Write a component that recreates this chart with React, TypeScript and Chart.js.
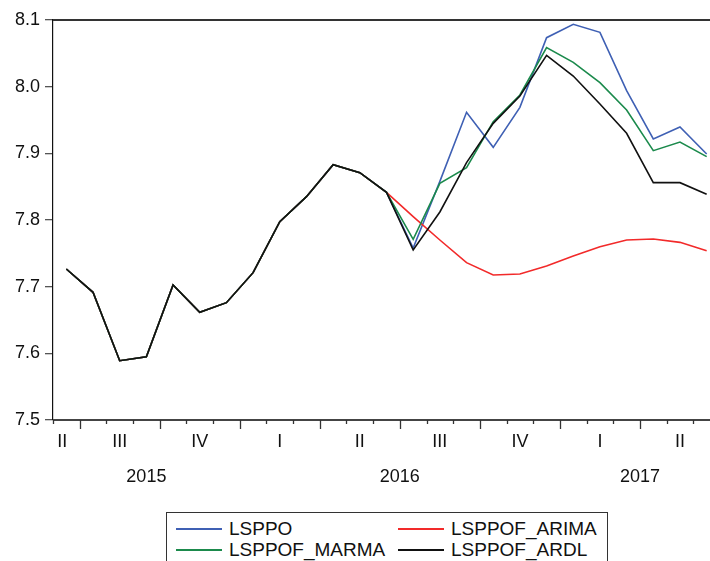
import React, { useEffect, useRef } from "react";
import { Chart, registerables } from "chart.js";

Chart.register(...registerables);

// Months shown on the x axis (2015M06 .. 2017M06)
const months: string[] = [
  "2015-06", "2015-07", "2015-08", "2015-09", "2015-10", "2015-11", "2015-12",
  "2016-01", "2016-02", "2016-03", "2016-04", "2016-05", "2016-06", "2016-07",
  "2016-08", "2016-09", "2016-10", "2016-11", "2016-12",
  "2017-01", "2017-02", "2017-03", "2017-04", "2017-05", "2017-06",
];

// Actual values up to the forecast start (2015M06 .. 2016M06)
const history: number[] = [
  7.7265, 7.6915, 7.589, 7.595, 7.7025, 7.6615, 7.676, 7.721, 7.7975, 7.835,
  7.883, 7.871, 7.8415,
];

// Values after the forecast start (2016M07 .. 2017M06)
const lsppoAfter: number[] = [
  7.758, 7.858, 7.9615, 7.909, 7.969, 8.0735, 8.0935, 8.0815, 7.994, 7.9215, 7.9395, 7.899,
];
const arimaAfter: number[] = [
  7.805, 7.77, 7.736, 7.7175, 7.719, 7.731, 7.746, 7.76, 7.77, 7.7715, 7.7665, 7.754,
];
const marmaAfter: number[] = [
  7.771, 7.855, 7.8785, 7.9475, 7.9875, 8.0585, 8.0365, 8.006, 7.965, 7.904, 7.917, 7.895,
];
const ardlAfter: number[] = [
  7.755, 7.812, 7.886, 7.945, 7.986, 8.047, 8.016, 7.974, 7.93, 7.856, 7.856, 7.8385,
];

const yTicks: number[] = [7.5, 7.6, 7.7, 7.8, 7.9, 8.0, 8.1];
const quarterNames: string[] = ["I", "II", "III", "IV"];

const seriesNames = ["LSPPO", "LSPPOF_ARIMA", "LSPPOF_MARMA", "LSPPOF_ARDL"];
const seriesColors = ["#3f60b4", "#f22a2a", "#1b8a4c", "#111111"];

const FONT = '"Liberation Sans", Arial, sans-serif';

const xAxisPlugin = {
  id: "eviewsAxis",
  afterDraw(chart: any) {
    const { ctx, chartArea, scales } = chart;
    const xs = scales.x;
    const left = chartArea.left;
    const right = chartArea.right;
    const bottom = chartArea.bottom;
    const n = months.length;
    const step = (right - left) / n;
    ctx.save();
    // top frame line
    ctx.strokeStyle = "#333333";
    ctx.lineWidth = 2;
    ctx.beginPath();
    ctx.moveTo(left, chartArea.top);
    ctx.lineTo(right, chartArea.top);
    ctx.stroke();
    // bottom axis line
    ctx.strokeStyle = "#444444";
    ctx.beginPath();
    ctx.moveTo(left, bottom);
    ctx.lineTo(right, bottom);
    ctx.stroke();
    // month ticks
    ctx.lineWidth = 1.3;
    ctx.strokeStyle = "#333333";
    for (let i = 0; i < n; i++) {
      const m = parseInt(months[i].slice(5), 10);
      const isQuarterStart = (m - 1) % 3 === 0;
      const x = Math.round(xs.getPixelForValue(i) - step / 2) + 0.5;
      ctx.beginPath();
      ctx.moveTo(x, bottom);
      ctx.lineTo(x, bottom + (isQuarterStart ? 9 : 4));
      ctx.stroke();
    }
    // quarter labels
    ctx.fillStyle = "#111111";
    ctx.font = `18px ${FONT}`;
    ctx.textAlign = "center";
    ctx.textBaseline = "middle";
    const qGroups: { key: string; q: number; idx: number[] }[] = [];
    const yGroups: { y: string; idx: number[] }[] = [];
    months.forEach((mm, i) => {
      const y = mm.slice(0, 4);
      const q = Math.floor((parseInt(mm.slice(5), 10) - 1) / 3);
      const key = y + "-" + q;
      const lastQ = qGroups[qGroups.length - 1];
      if (lastQ && lastQ.key === key) lastQ.idx.push(i);
      else qGroups.push({ key, q, idx: [i] });
      const lastY = yGroups[yGroups.length - 1];
      if (lastY && lastY.y === y) lastY.idx.push(i);
      else yGroups.push({ y, idx: [i] });
    });
    qGroups.forEach((g) => {
      const label = quarterNames[g.q];
      let cx = g.idx.reduce((s, i) => s + xs.getPixelForValue(i), 0) / g.idx.length;
      if (g.idx.length === 1) cx -= 4;
      ctx.fillText(label, cx, bottom + 22);
    });
    yGroups.forEach((g) => {
      const cx = g.idx.reduce((s, i) => s + xs.getPixelForValue(i), 0) / g.idx.length;
      ctx.fillText(g.y, cx, bottom + 57);
    });
    ctx.restore();
  },
};

function App() {
  const ref = useRef<HTMLCanvasElement | null>(null);

  useEffect(() => {
    if (!ref.current) return;
    const full = (after: number[]) => history.concat(after);
    const series = [full(lsppoAfter), full(arimaAfter), full(marmaAfter), full(ardlAfter)];
    const orders = [3, 2, 1, 0];
    const chart = new Chart(ref.current, {
      type: "line",
      data: {
        labels: months,
        datasets: series.map((d, k) => ({
          label: seriesNames[k],
          data: d,
          borderColor: seriesColors[k],
          backgroundColor: seriesColors[k],
          borderWidth: 1.6,
          pointRadius: 0,
          tension: 0,
          fill: false,
          order: orders[k],
        })),
      },
      options: {
        animation: false,
        responsive: false,
        devicePixelRatio: 1,
        layout: { padding: { top: 20, right: 10, bottom: 141, left: 0 } },
        plugins: { legend: { display: false }, tooltip: { enabled: false } },
        scales: {
          x: {
            type: "category",
            offset: true,
            display: false,
          },
          y: {
            min: 7.5,
            max: 8.1,
            afterFit: (s: any) => {
              s.width = 53;
            },
            afterBuildTicks: (s: any) => {
              s.ticks = yTicks.map((v) => ({ value: v }));
            },
            grid: {
              drawOnChartArea: false,
              drawTicks: true,
              tickLength: 8,
              color: "#555555",
              lineWidth: 1.3,
            },
            border: { display: true, color: "#111111", width: 1.2 },
            ticks: {
              padding: 5,
              color: "#111111",
              font: { family: FONT, size: 18 },
              callback: (v: any) => Number(v).toFixed(1),
            },
          },
        },
      },
      plugins: [xAxisPlugin],
    });
    return () => chart.destroy();
  }, []);

  const legendItems = [
    { k: 0, col: 0, row: 0 },
    { k: 1, col: 1, row: 0 },
    { k: 2, col: 0, row: 1 },
    { k: 3, col: 1, row: 1 },
  ];

  return (
    <div style={{ position: "fixed", left: 0, top: 0, width: 730, height: 561, background: "#fff", overflow: "hidden" }}>
      <canvas ref={ref} width={730} height={561} style={{ position: "absolute", left: 0, top: 0, width: 730, height: 561 }} />
      <div
        style={{
          position: "absolute",
          left: 166,
          top: 512,
          width: 440,
          height: 80,
          border: "1px solid #333",
          background: "#fff",
          fontFamily: FONT,
          fontSize: 19,
          color: "#111",
        }}
      >
        {legendItems.map((it) => (
          <div
            key={it.k}
            style={{
              position: "absolute",
              left: it.col === 0 ? 9 : 231,
              top: it.row === 0 ? 6 : 27,
              height: 20,
              lineHeight: "20px",
              display: "flex",
              alignItems: "center",
              whiteSpace: "nowrap",
            }}
          >
            <div style={{ width: 46, height: 2, background: seriesColors[it.k], marginRight: 7, flex: "0 0 46px" }} />
            <span>{seriesNames[it.k]}</span>
          </div>
        ))}
      </div>
    </div>
  );
}

export default App;
